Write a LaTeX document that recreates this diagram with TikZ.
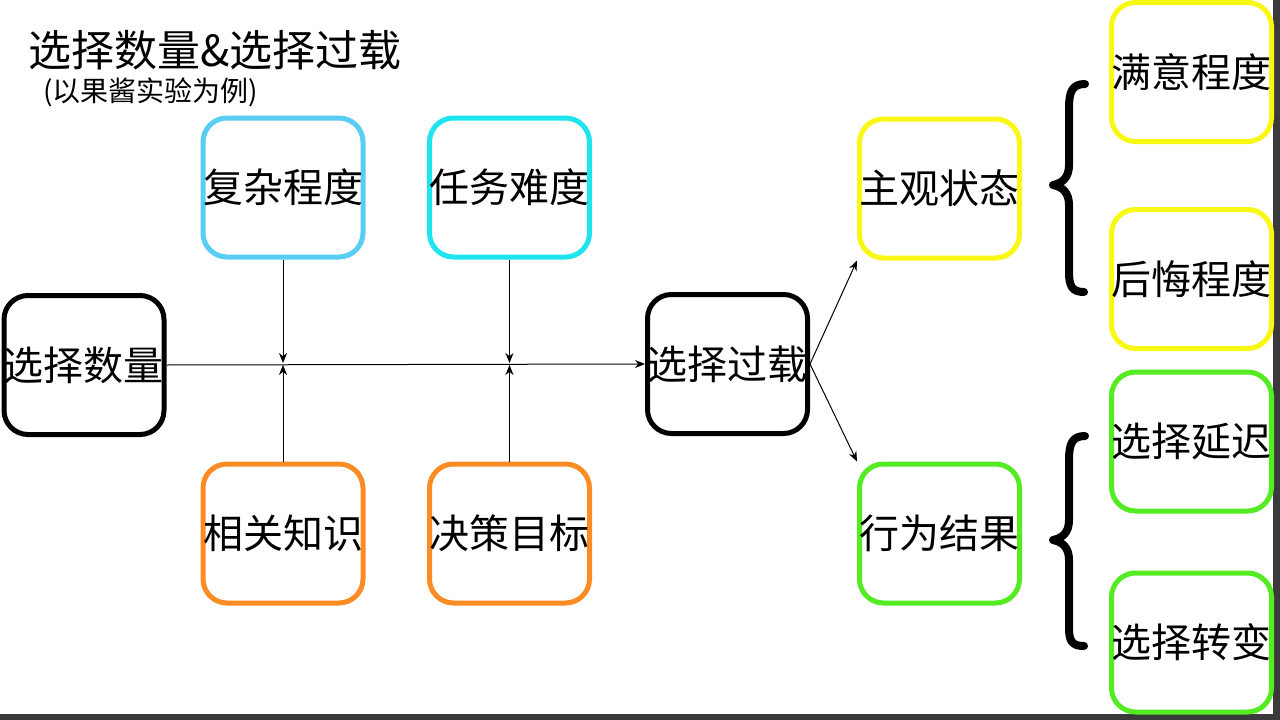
\documentclass[tikz,border=0pt]{standalone}
\usepackage{fontspec}
\newfontfamily\cjk{Noto Sans CJK SC}
\usetikzlibrary{arrows.meta}
\definecolor{cBlue}{RGB}{90,205,245}
\definecolor{cCyan}{RGB}{30,228,240}
\definecolor{cOrange}{RGB}{250,140,35}
\definecolor{cYellow}{RGB}{248,248,20}
\definecolor{cGreen}{RGB}{85,235,35}
\definecolor{cStrip}{RGB}{58,58,60}
\begin{document}
\begin{tikzpicture}[x=1pt,y=-1pt,
  box/.style={rectangle, rounded corners=24pt, line width=5pt, minimum width=160pt, minimum height=139pt, inner sep=0pt, font=\cjk\fontsize{40}{40}\selectfont},
  arr/.style={draw=black, line width=1pt, -{Stealth[length=10pt,width=8pt]}},
  bracestyle/.style={draw=black, line width=8pt, line cap=round, line join=round}]
\useasboundingbox (0,0) rectangle (1280,720);
\fill[white] (0,0) rectangle (1280,720);
\fill[cStrip] (1273,0) rectangle (1280,720);
\fill[cStrip] (0,714) rectangle (1280,720);

% titles
\node[anchor=west, inner sep=0pt, font=\cjk\fontsize{43}{43}\selectfont] (title) at (28,50) {选择数量\&选择过载};
\node[anchor=west, inner sep=0pt, font=\cjk\fontsize{28}{28}\selectfont] (sub) at (43,92) {(以果酱实验为例)};

% boxes
\node[box, draw=black] (sl) at (84,365) {选择数量};
\node[box, draw=cBlue] (fz) at (283,187.5) {复杂程度};
\node[box, draw=cCyan] (rw) at (509.5,187.5) {任务难度};
\node[box, draw=cOrange] (xg) at (283,533.5) {相关知识};
\node[box, draw=cOrange] (jc) at (509.5,533.5) {决策目标};
\node[box, draw=black] (gz) at (727.5,364) {选择过载};
\node[box, draw=cYellow] (zg) at (939.5,188.5) {主观状态};
\node[box, draw=cGreen] (xw) at (939.5,533.5) {行为结果};
\node[box, draw=cYellow] (my) at (1191.5,72) {满意程度};
\node[box, draw=cYellow] (hh) at (1191.5,279) {后悔程度};
\node[box, draw=cGreen] (yc) at (1191.5,441.5) {选择延迟};
\node[box, draw=cGreen] (zb) at (1191.5,642.5) {选择转变};

% junctions
\coordinate (j1) at (283,364);
\coordinate (j2) at (509.5,364);

% connectors
\draw[arr] (sl.east) -- (gz.west);
\draw[arr, shorten >=1pt] (fz.south) -- (j1);
\draw[arr, shorten >=1pt] (xg.north) -- (j1);
\draw[arr, shorten >=1pt] (rw.south) -- (j2);
\draw[arr, shorten >=1pt] (jc.north) -- (j2);
\draw[arr] (gz.east) -- (zg.south west);
\draw[arr] (gz.east) -- (xw.north west);

% braces
\draw[bracestyle] (1085,84) .. controls (1072,84) and (1069,92) .. (1069,108)
  -- (1069,165) .. controls (1069,177) and (1063,183) .. (1053,185)
  .. controls (1063,187) and (1069,193) .. (1069,205)
  -- (1069,272) .. controls (1069,286) and (1072,292) .. (1084,292);
\draw[bracestyle] (1085,436) .. controls (1072,436) and (1069,444) .. (1069,460)
  -- (1069,520) .. controls (1069,532) and (1063,538) .. (1053,540)
  .. controls (1063,542) and (1069,548) .. (1069,560)
  -- (1069,628) .. controls (1069,641) and (1072,646) .. (1084,646);
\end{tikzpicture}
\end{document}
